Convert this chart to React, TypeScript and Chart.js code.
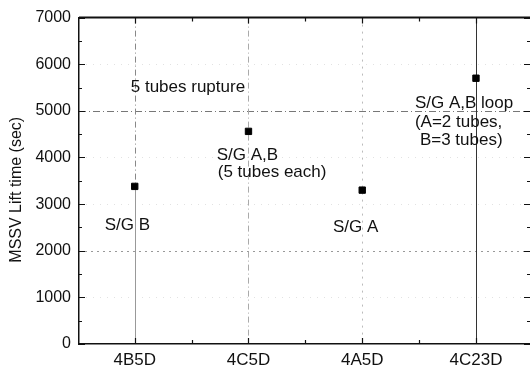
import { useEffect, useRef } from "react";
import { Chart, registerables } from "chart.js";

Chart.register(...registerables);

// Break cases on the category axis and the MSSV lift time of each
const cases = ["4B5D", "4C5D", "4A5D", "4C23D"];
const liftTimes = [3380, 4560, 3300, 5700];

// Value axis
const yMin = 0;
const yMax = 7000;
const yStep = 1000;
const yTitle = "MSSV Lift time (sec)";

// Notes written inside the plot, anchored in data coordinates (case index, seconds)
const noteTexts = [
  "5 tubes rupture",
  "S/G A,B",
  "(5 tubes each)",
  "S/G A,B loop",
  "(A=2 tubes,",
  "B=3 tubes)",
  "S/G B",
  "S/G A",
];
const noteAtCase = [-0.035, 0.72, 0.73, 2.463, 2.463, 2.507, -0.264, 1.742];
const noteAtSec = [5405, 3939, 3575, 5052, 4656, 4260, 2440, 2398];

const FONT = '"Liberation Sans", Arial, Helvetica, sans-serif';
const INK = "#111";

type Line = { color: string; width: number; dash: number[] };

// style of the horizontal reference line at a value
function hLineStyle(v: number): Line | null {
  if (v === 5000) return { color: "#777", width: 1, dash: [7, 3, 1, 3] };
  if (v === 2000) return { color: "#999", width: 1, dash: [2, 4] };
  if (v > yMin && v < yMax) return { color: "#e2e2e2", width: 1, dash: [1, 6] };
  return null;
}

// style of the vertical line through each case
const vLineStyles: Line[] = [
  { color: "#888", width: 1, dash: [6, 3, 1, 3] },
  { color: "#aaa", width: 1, dash: [6, 3, 1, 3] },
  { color: "#bbb", width: 1, dash: [2, 5] },
  { color: "#333", width: 1, dash: [] },
];

const framePlugin = {
  id: "frame",
  beforeDraw(chart: any) {
    const { ctx, width, height } = chart;
    ctx.save();
    ctx.fillStyle = "#fff";
    ctx.fillRect(0, 0, width, height);
    ctx.restore();
  },
  beforeDatasetsDraw(chart: any) {
    const { ctx, chartArea: a, scales } = chart;
    const xs = scales.x;
    const ys = scales.y;
    ctx.save();
    for (let v = yMin; v <= yMax; v += yStep) {
      const s = hLineStyle(v);
      if (!s) continue;
      const py = Math.round(ys.getPixelForValue(v)) + 0.5;
      ctx.strokeStyle = s.color;
      ctx.lineWidth = s.width;
      ctx.setLineDash(s.dash);
      ctx.beginPath();
      ctx.moveTo(a.left, py);
      ctx.lineTo(a.right, py);
      ctx.stroke();
    }
    cases.forEach((_, i) => {
      const s = vLineStyles[i];
      const px = Math.round(xs.getPixelForValue(i)) + 0.5;
      ctx.strokeStyle = s.color;
      ctx.lineWidth = s.width;
      ctx.setLineDash(s.dash);
      ctx.beginPath();
      ctx.moveTo(px, a.top);
      ctx.lineTo(px, a.bottom);
      ctx.stroke();
    });
    // drop line under the first case
    {
      const px = Math.round(xs.getPixelForValue(0)) + 0.5;
      ctx.setLineDash([]);
      ctx.strokeStyle = "#999";
      ctx.beginPath();
      ctx.moveTo(px, ys.getPixelForValue(liftTimes[0]));
      ctx.lineTo(px, a.bottom);
      ctx.stroke();
    }
    ctx.restore();
  },
  afterDraw(chart: any) {
    const { ctx, chartArea: a, scales } = chart;
    const xs = scales.x;
    const ys = scales.y;
    ctx.save();
    ctx.strokeStyle = INK;
    ctx.setLineDash([]);

    // top frame line
    ctx.lineWidth = 2;
    ctx.beginPath();
    ctx.moveTo(a.left, a.top);
    ctx.lineTo(a.right, a.top);
    ctx.stroke();

    // inward ticks on the value axes (left and right)
    ctx.lineWidth = 1.2;
    for (let v = yMin; v <= yMax; v += yStep / 2) {
      const len = v % yStep === 0 ? 6 : 3;
      const py = Math.round(ys.getPixelForValue(v)) + 0.5;
      ctx.beginPath();
      ctx.moveTo(a.left, py);
      ctx.lineTo(a.left + len, py);
      ctx.moveTo(a.right, py);
      ctx.lineTo(a.right - len, py);
      ctx.stroke();
    }
    // inward ticks on the case axes (bottom and top)
    for (let k = 0; k <= xs.max; k += 0.5) {
      const len = Number.isInteger(k) ? 6 : 4;
      const px = Math.round(xs.getPixelForValue(k)) + 0.5;
      ctx.beginPath();
      ctx.moveTo(px, a.bottom);
      ctx.lineTo(px, a.bottom - len);
      ctx.moveTo(px, a.top);
      ctx.lineTo(px, a.top + len);
      ctx.stroke();
    }

    // notes
    ctx.fillStyle = INK;
    ctx.font = `17px ${FONT}`;
    ctx.textAlign = "left";
    ctx.textBaseline = "alphabetic";
    noteTexts.forEach((t, i) => {
      ctx.fillText(t, xs.getPixelForValue(noteAtCase[i]), ys.getPixelForValue(noteAtSec[i]));
    });

    // value axis title
    ctx.font = `16px ${FONT}`;
    ctx.textAlign = "center";
    ctx.textBaseline = "middle";
    ctx.translate(a.left - 62, (a.top + a.bottom) / 2 + 9);
    ctx.rotate(-Math.PI / 2);
    ctx.fillText(yTitle, 0, 0);
    ctx.restore();
  },
};

export default function App() {
  const canvasRef = useRef<HTMLCanvasElement | null>(null);

  useEffect(() => {
    const canvas = canvasRef.current;
    if (!canvas) return;
    const chart = new Chart(canvas, {
      type: "scatter",
      data: {
        datasets: [
          {
            data: cases.map((_, i) => ({ x: i, y: liftTimes[i] })),
            pointStyle: "rect",
            pointRadius: 4.5,
            pointBorderWidth: 1,
            backgroundColor: "#000",
            borderColor: "#000",
            showLine: false,
          },
        ],
      },
      options: {
        responsive: false,
        animation: false,
        events: [],
        layout: { autoPadding: false, padding: { top: 17, right: 0, left: 0, bottom: 0 } },
        plugins: {
          legend: { display: false },
          tooltip: { enabled: false },
        },
        scales: {
          x: {
            type: "linear",
            min: -0.49,
            max: 3.475,
            grid: { display: false, drawTicks: false },
            border: { display: true, color: INK, width: 1.5 },
            afterBuildTicks: (s: any) => {
              s.ticks = cases.map((_, i) => ({ value: i }));
            },
            afterFit: (s: any) => {
              s.height = 23;
            },
            ticks: {
              padding: 6,
              color: INK,
              autoSkip: false,
              maxRotation: 0,
              font: { family: FONT, size: 17 },
              callback: (v: any) => cases[Number(v)] ?? "",
            },
          },
          y: {
            min: yMin,
            max: yMax,
            grid: { display: false, drawTicks: false },
            border: { display: true, color: INK, width: 1.5 },
            afterFit: (s: any) => {
              s.width = 79;
            },
            ticks: {
              stepSize: yStep,
              padding: 8,
              color: INK,
              font: { family: FONT, size: 16 },
              callback: (v: any) => String(v),
            },
          },
        },
      },
      plugins: [framePlugin],
    });
    return () => chart.destroy();
  }, []);

  return (
    <div style={{ position: "absolute", left: 0, top: 0, width: 530, height: 367, overflow: "hidden", background: "#fff" }}>
      <canvas ref={canvasRef} width={530} height={367} style={{ display: "block" }} />
    </div>
  );
}
